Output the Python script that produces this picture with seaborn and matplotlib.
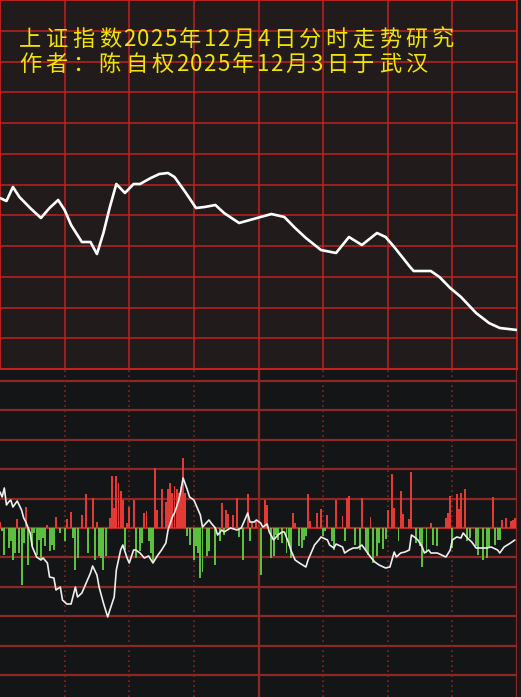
import matplotlib
matplotlib.use("Agg")
import matplotlib.pyplot as plt
import numpy as np
import seaborn as sns

# ------------------------------------------------------------------
# data (minute index 0..240)
# ------------------------------------------------------------------
# top panel: index line, level in panel units (0 = bottom, 369 = top)
price_t = [0, 2, 3, 6, 9, 14, 19, 23, 27, 30,
           33, 38, 42, 45, 48, 51, 54, 58, 62, 65,
           70, 74, 78, 81, 86, 91, 95, 100, 104, 111,
           116, 121, 126, 132, 137, 142, 149, 156, 162, 168,
           175, 179, 183, 190, 192, 200, 204, 209, 214, 221,
           227, 232, 240]
price_v = [171, 169, 168, 182, 172, 161, 151, 161, 169, 159,
           144, 127, 127, 115, 136, 162, 185, 176, 185, 185,
           191, 195, 196, 192, 177, 161, 162, 164, 156, 146,
           149, 152, 155, 152, 141, 131, 119, 116, 132, 124,
           136, 132, 122, 103, 98, 98, 92, 81, 72, 56,
           46, 41, 39]

# bottom panel: white indicator line
flow_t = [0, 1, 2, 3, 4, 5, 6, 8, 10, 11,
          12, 14, 15, 17, 19, 20, 22, 23, 25, 26,
          28, 29, 31, 33, 35, 36, 38, 40, 42, 43,
          45, 46, 48, 50, 51, 53, 54, 56, 57, 59,
          60, 62, 63, 65, 67, 69, 71, 73, 75, 77,
          78, 80, 81, 83, 84, 85, 87, 88, 90, 91,
          93, 94, 97, 98, 100, 101, 103, 104, 107, 110,
          112, 115, 116, 118, 119, 121, 122, 124, 125, 127,
          129, 131, 132, 134, 135, 137, 139, 142, 143, 145,
          146, 148, 149, 152, 153, 155, 156, 159, 160, 162,
          164, 166, 168, 169, 172, 174, 176, 179, 181, 183,
          184, 186, 188, 190, 191, 193, 194, 196, 197, 199,
          200, 203, 205, 207, 209, 210, 212, 214, 215, 217,
          219, 221, 224, 226, 228, 231, 232, 234, 237, 239]
flow_v = [36, 31, 40, 23, 26, 28, 21, 27, 18, 10,
          6, -5, -19, -29, -32, -30, -35, -49, -50, -62,
          -59, -72, -76, -76, -59, -69, -65, -55, -45, -38,
          -47, -59, -75, -89, -82, -69, -42, -22, -17, -30,
          -35, -22, -22, -25, -30, -28, -35, -28, -22, -15,
          -2, 11, 15, 28, 38, 50, 38, 31, 28, 23,
          13, 1, 8, 5, 0, -7, -2, -4, 0, -2,
          0, 15, 6, 6, 8, 5, 1, 4, -4, -12,
          -7, -4, -4, -15, -22, -32, -35, -39, -32, -22,
          -17, -12, -9, -12, -17, -20, -16, -19, -25, -22,
          -20, -20, -17, -20, -29, -34, -37, -40, -39, -24,
          -29, -25, -24, -22, -7, -10, -12, -19, -25, -22,
          -25, -25, -27, -29, -22, -12, -9, -10, -5, -10,
          -14, -20, -20, -20, -19, -22, -25, -19, -15, -12]

# bottom panel: red (up) bars
red_t = [0, 8, 12, 22, 26, 31, 33, 38, 40, 43,
         45, 51, 52, 53, 54, 55, 56, 57, 59, 60,
         62, 67, 68, 72, 73, 75, 77, 78, 79, 80,
         81, 82, 83, 84, 85, 86, 103, 105, 106, 108,
         110, 115, 117, 119, 123, 124, 136, 137, 143, 144,
         147, 149, 152, 156, 159, 161, 162, 168, 172, 180,
         182, 183, 186, 187, 190, 191, 200, 207, 208, 209,
         212, 213, 214, 216, 229, 233, 235, 237, 238, 239]
red_h = [6, 9, 21, 3, 11, 9, 16, 13, 34, 30,
         6, 10, 52, 20, 52, 45, 37, 28, 5, 21,
         28, 15, 17, 60, 18, 39, 26, 39, 45, 35,
         42, 39, 35, 41, 70, 35, 25, 18, 14, 13,
         30, 34, 6, 7, 28, 23, 15, 5, 34, 7,
         15, 19, 13, 28, 12, 30, 32, 30, 11, 18,
         54, 20, 37, 14, 9, 56, 5, 10, 15, 32,
         34, 19, 35, 39, 31, 8, 10, 7, 8, 10]

# bottom panel: green (down) bars
green_t = [1, 2, 4, 5, 6, 7, 9, 10, 11, 13,
           15, 16, 17, 18, 19, 20, 21, 23, 24, 25,
           28, 30, 34, 35, 36, 41, 44, 46, 47, 48,
           49, 58, 63, 65, 66, 69, 70, 71, 87, 88,
           90, 91, 92, 93, 94, 96, 97, 100, 102, 104,
           111, 113, 116, 121, 126, 127, 128, 129, 131, 133,
           134, 135, 139, 140, 141, 142, 150, 151, 154, 155,
           160, 165, 167, 170, 171, 173, 175, 176, 178, 179,
           185, 193, 195, 196, 198, 201, 203, 210, 217, 218,
           221, 222, 224, 226, 227, 230, 231, 232]
green_h = [-3, -27, -20, -13, -32, -25, -25, -57, -15, -37,
           -18, -5, -27, -12, -32, -10, -18, -23, -17, -22,
           -5, -13, -10, -42, -30, -25, -32, -28, -30, -42,
           -28, -22, -30, -23, -15, -13, -25, -35, -8, -17,
           -32, -18, -25, -50, -44, -28, -23, -37, -13, -7,
           -9, -32, -13, -47, -30, -28, -7, -12, -15, -25,
           -18, -30, -18, -20, -12, -8, -8, -3, -13, -22,
           -13, -17, -22, -22, -27, -35, -28, -15, -21, -11,
           -13, -15, -18, -39, -25, -17, -18, -20, -13, -10,
           -18, -27, -32, -30, -20, -17, -12, -12]

title_1 = "上证指数2025年12月4日分时走势研究"
title_2 = "作者：陈自权2025年12月3日于武汉"

# ------------------------------------------------------------------
sns.set_style("dark")
plt.rcParams["font.family"] = ["Noto Sans CJK SC", "DejaVu Sans"]

W, H = 521, 697
GRID_TOP = "#c02222"
GRID_BOT = "#8e2826"

fig = plt.figure(figsize=(W / 100, H / 100), dpi=100)
fig.patch.set_facecolor("#1a1818")

# top panel: intraday price line
ax1 = fig.add_axes([0, 1 - 369 / H, 517 / W, 369 / H])
ax1.set_facecolor("#211c1b")
ax1.set_xlim(0, 240)
ax1.set_ylim(0, 369)
ax1.set_xticks(np.arange(0, 241, 30))
ax1.set_yticks(np.linspace(0, 369, 13))
ax1.grid(True, color=GRID_TOP, lw=1.1)
ax1.tick_params(length=0, labelbottom=False, labelleft=False)
for s in ax1.spines.values():
    s.set_color(GRID_TOP)
    s.set_linewidth(1.2)
sns.lineplot(x=price_t, y=price_v, ax=ax1, color="white", lw=1.9,
             estimator=None, zorder=4)
ax1.set_xlabel("")
ax1.set_ylabel("")

# bottom panel: red/green flow bars + white indicator line
ax2 = fig.add_axes([0, 0, 517 / W, 328 / H])
ax2.set_facecolor("#141516")
ax2.set_xlim(0, 240)
ax2.set_ylim(-169, 159)
ax2.set_xticks([])
ax2.set_yticks([])
ax2.grid(False)
for k in range(-5, 6):
    ax2.axhline(k * 29.4, color="#b52a27" if k == 0 else GRID_BOT,
                lw=1.6, zorder=1)
for m in (30, 60, 90, 150, 180, 210):
    ax2.axvline(m, color="#7e2624", lw=1.2, ls=(0, (1, 2)), zorder=1)
for m in (120, 240):
    ax2.axvline(m, color=GRID_BOT, lw=1.6, zorder=1)
for side, s in ax2.spines.items():
    s.set_visible(side == "top")
    s.set_color(GRID_TOP)
    s.set_linewidth(1.5)

ax2.bar(red_t, red_h, width=0.9, color="#e23a35", linewidth=0,
        antialiased=False, zorder=3)
ax2.bar(green_t, green_h, width=0.9, color="#5cbf3e", linewidth=0,
        antialiased=False, zorder=3)
sns.lineplot(x=flow_t, y=flow_v, ax=ax2, color="#eeeeee", lw=1.2,
             estimator=None, zorder=4)
ax2.set_xlabel("")
ax2.set_ylabel("")


# title text, laid out with the wide letter spacing of the original
def put_title(text, x0, baseline):
    x = x0
    for ch in text:
        w = 13.5 if ch.isascii() else 26.5
        fig.text((x + w / 2) / W, 1 - baseline / H, ch, ha="center",
                 va="baseline", fontsize=16, color="#f2e205")
        x += w


put_title(title_1, 17, 46)
put_title(title_2, 17, 71)

fig.savefig("out.png", dpi=100, facecolor=fig.get_facecolor())
